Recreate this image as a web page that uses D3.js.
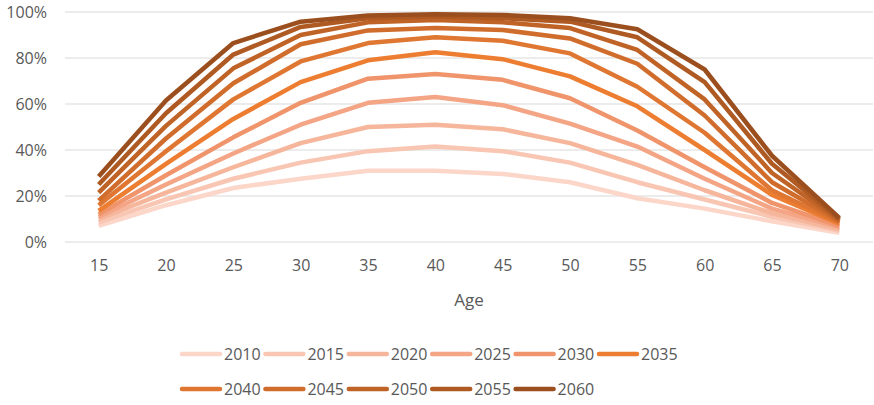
<!DOCTYPE html>
<html>
<head>
<meta charset="utf-8">
<script src="https://cdn.jsdelivr.net/npm/d3@7"></script>
<style>
  html, body { margin: 0; padding: 0; background: #fff; }
  svg { display: block; font-family: "Open Sans", "DejaVu Sans", sans-serif; }
</style>
</head>
<body>
<svg id="chart" width="874" height="405"></svg>
<script>
// Participation share (%) by age group, one series per projection year
const ages = [15, 20, 25, 30, 35, 40, 45, 50, 55, 60, 65, 70];
const years = ["2010", "2015", "2020", "2025", "2030", "2035", "2040", "2045", "2050", "2055", "2060"];

const s2010 = [7, 16, 23.5, 27.5, 31, 31, 29.6, 26, 19, 14.5, 9, 4];
const s2015 = [8.5, 18.5, 27.5, 34.5, 39.5, 41.5, 39.5, 34.5, 26, 18.5, 11, 5];
const s2020 = [10, 21.5, 32.5, 43, 50, 51, 49, 43, 33.5, 22.5, 12.5, 5.5];
const s2025 = [11, 25, 38.5, 51, 60.5, 63, 59.5, 51.5, 41.5, 27.5, 14.5, 6.5];
const s2030 = [12, 29, 45.5, 60.5, 71, 73, 70.5, 62.5, 48.5, 32.5, 17, 7];
const s2035 = [13.5, 34, 53.5, 69.5, 79, 82.5, 79.5, 72, 59, 40, 20.5, 8];
const s2040 = [16, 39.5, 62, 78.5, 86.5, 89, 87.5, 82, 67.5, 47.5, 22.5, 8.5];
const s2045 = [18, 45, 69, 86, 92, 93, 92.2, 88.5, 77.5, 55, 26, 9];
const s2050 = [21.5, 50.5, 75.5, 90, 95.5, 96.5, 95.5, 93, 83.5, 62, 30, 9.5];
const s2055 = [25, 56, 81.5, 93.5, 97.3, 98, 97.3, 95.8, 89, 69.5, 34, 10];
const s2060 = [28.5, 61.5, 86.5, 95.8, 98.5, 99, 98.7, 97.3, 92.5, 75, 37.5, 10.5];

const seriesValues = [s2010, s2015, s2020, s2025, s2030, s2035, s2040, s2045, s2050, s2055, s2060];
const colors = ["#FBD6C9", "#F8C6B2", "#F6B69C", "#F3A585", "#F0946B", "#ED7D31",
                "#DF7632", "#D06D2C", "#C06327", "#AE5A22", "#9C4F1E"];

const yTicks = [0, 20, 40, 60, 80, 100];
const xTitle = "Age";

const svg = d3.select("#chart");
const plot = { left: 65, right: 873, top: 12, bottom: 242 };
const textColor = "#595959";
const fontSize = "16px";

const x = d3.scalePoint().domain(ages).range([plot.left, plot.right]).padding(0.5);
const y = d3.scaleLinear().domain([0, 100]).range([plot.bottom, plot.top]);

// Horizontal gridlines
svg.append("g")
  .selectAll("line")
  .data(yTicks)
  .join("line")
  .attr("x1", plot.left).attr("x2", plot.right)
  .attr("y1", d => y(d)).attr("y2", d => y(d))
  .attr("stroke", "#D9D9D9").attr("stroke-width", 1);

// Y axis labels
const yAxis = svg.append("g")
  .attr("transform", `translate(${plot.left - 18},0)`)
  .call(d3.axisLeft(y).tickValues(yTicks).tickFormat(d => d + "%").tickSize(0).tickPadding(0));
yAxis.select(".domain").remove();
yAxis.selectAll("text")
  .attr("fill", textColor).style("font-size", fontSize)
  .style("font-family", "'Open Sans', sans-serif");

// X axis labels
const xAxis = svg.append("g")
  .attr("transform", `translate(0,${plot.bottom})`)
  .call(d3.axisBottom(x).tickSize(0).tickPadding(18));
xAxis.select(".domain").remove();
xAxis.selectAll("text")
  .attr("fill", textColor).style("font-size", fontSize)
  .style("font-family", "'Open Sans', sans-serif");

// Axis title
svg.append("text")
  .attr("x", (plot.left + plot.right) / 2)
  .attr("y", 299)
  .attr("text-anchor", "middle")
  .attr("dominant-baseline", "central")
  .attr("fill", textColor)
  .style("font-size", "17px")
  .text(xTitle);

// Series lines
const line = d3.line()
  .x((d, i) => x(ages[i]))
  .y(d => y(d));

svg.append("g")
  .selectAll("path")
  .data(seriesValues)
  .join("path")
  .attr("d", d => line(d))
  .attr("fill", "none")
  .attr("stroke", (d, i) => colors[i])
  .attr("stroke-width", 4.5)
  .attr("stroke-linejoin", "round")
  .attr("stroke-linecap", "butt");

// Legend, two rows
const legend = svg.append("g");
const perRow = 6, itemW = 83.4, legendX = 180, rowY = [354, 389];
const items = legend.selectAll("g")
  .data(years)
  .join("g")
  .attr("transform", (d, i) => `translate(${legendX + (i % perRow) * itemW},${rowY[Math.floor(i / perRow)]})`);
items.append("line")
  .attr("x1", 2).attr("x2", 40).attr("y1", 0).attr("y2", 0)
  .attr("stroke", (d, i) => colors[i])
  .attr("stroke-width", 4.5)
  .attr("stroke-linecap", "round");
items.append("text")
  .attr("x", 44).attr("y", 0)
  .attr("dominant-baseline", "central")
  .attr("fill", textColor)
  .style("font-size", fontSize)
  .text(d => d);
</script>
</body>
</html>
